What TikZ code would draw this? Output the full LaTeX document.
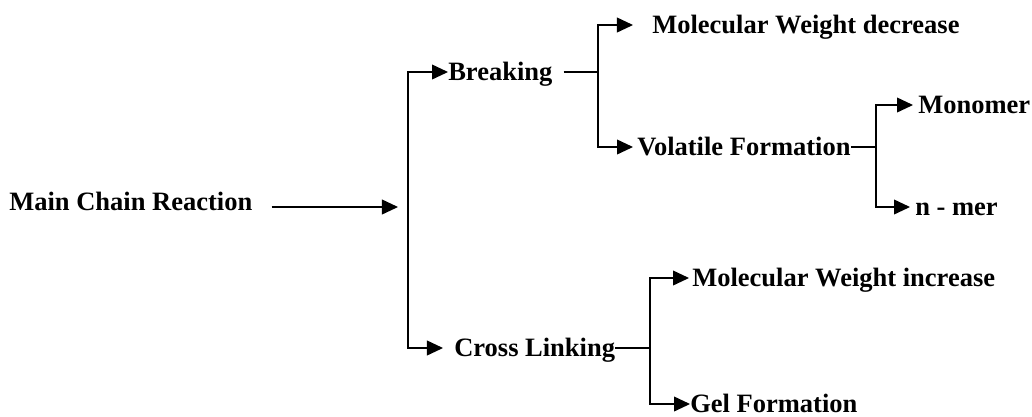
\documentclass[tikz,border=0pt]{standalone}
\usepackage{fontspec}
\setmainfont{Liberation Serif}
\usetikzlibrary{arrows.meta}

\begin{document}
\begin{tikzpicture}
        [x=0.025cm, y=-0.025cm,
        label/.style={font=\fontsize{18.85}{22}\selectfont\bfseries, inner sep=0, anchor=west, text height=0.475cm, text depth=0.06cm},
        line/.style={line width=0.9pt, black},
        arrow/.style={line, -{Triangle[length=0.4cm, width=0.37cm]}}]

        \useasboundingbox (0,0) rectangle (1032,416);

        \node[label] (main) at (9,201.7) {Main Chain Reaction};
        \node[label] (brk) at (448,72) {Breaking};
        \node[label] (mwd) at (652,25) {Molecular Weight decrease};
        \node[label] (vol) at (637,147) {Volatile Formation};
        \node[label] (mono) at (918,105) {Monomer};
        \node[label] (nmer) at (915,207) {n - mer};
        \node[label] (crs) at (454,348) {Cross Linking};
        \node[label] (mwi) at (692,278) {Molecular Weight increase};
        \node[label] (gel) at (690,404) {Gel Formation};

        % split points
        \coordinate (s1) at (408,207);
        \coordinate (s2) at (598,72);
        \coordinate (s3) at (876,147);
        \coordinate (s4) at (650,348);

        % main arrow
        \draw[arrow, shorten <=0.475cm, shorten >=0.25cm] (main.east |- s1) -- (s1);

        % first split
        \draw[arrow] (s1) |- (brk);
        \draw[arrow, shorten >=0.275cm] (s1) |- (crs);

        % breaking
        \draw[line, shorten <=0.275cm] (brk) -- (s2);
        \draw[arrow, shorten >=0.475cm] (s2) |- (mwd);
        \draw[arrow, shorten >=0.1cm] (s2) |- (vol);

        % volatile formation
        \draw[line] (vol) -- (s3);
        \draw[arrow, shorten >=0.125cm] (s3) |- (mono);
        \draw[arrow, shorten >=0.125cm] (s3) |- (nmer);

        % cross linking
        \draw[line] (crs) -- (s4);
        \draw[arrow, shorten >=0.075cm] (s4) |- (mwi);
        \draw[arrow] (s4) |- (gel);

    \end{tikzpicture}
\end{document}
